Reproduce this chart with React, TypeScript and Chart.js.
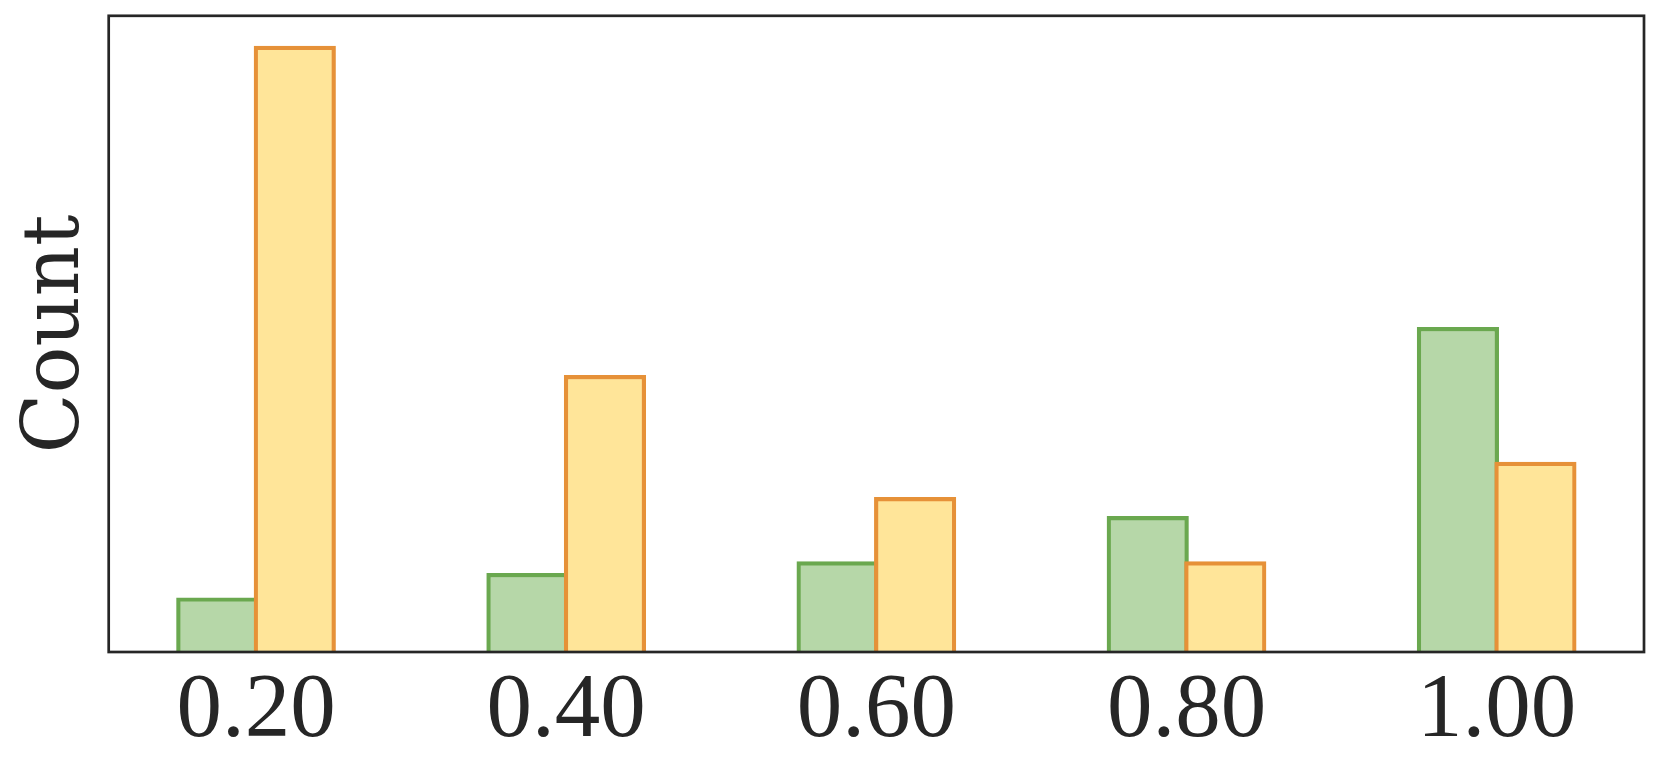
import React, { useEffect, useRef } from "react";
import { Chart, registerables } from "chart.js";

Chart.register(...registerables);

const CATEGORIES = ["0.20", "0.40", "0.60", "0.80", "1.00"];
const GREEN_VALUES = [6.0, 8.7, 10.0, 15.0, 35.9];
const ORANGE_VALUES = [67.0, 30.6, 17.1, 10.0, 21.0];
const Y_LABEL = "Count";

const Y_MAX = 70.35;
const X_MIN = -0.475;
const X_MAX = 4.475;
const BAR_WIDTH = 0.25;

const INK = "#262626";
const TITLE_FONT = "'DejaVu Serif', serif";
const TICK_FONT = "'Liberation Serif', 'Times New Roman', serif";

const framePlugin = {
  id: "frame",
  afterDatasetsDraw(chart: any) {
    const { ctx, chartArea } = chart;
    const { left, top, right, bottom } = chartArea;
    ctx.save();
    ctx.strokeStyle = INK;
    ctx.lineWidth = 2.7;
    ctx.strokeRect(left, top, right - left, bottom - top);
    ctx.restore();
  },
};

export default function App() {
  const canvasRef = useRef<HTMLCanvasElement | null>(null);

  useEffect(() => {
    document.body.style.margin = "0";
    const canvas = canvasRef.current;
    if (!canvas) return;
    const chart = new Chart(canvas, {
      type: "bar",
      data: {
        datasets: [
          {
            label: "green",
            data: GREEN_VALUES.map((v, i) => ({ x: i - BAR_WIDTH / 2, y: v })),
            backgroundColor: "#b6d7a8",
            borderColor: "#6aa84f",
            borderWidth: 4.2,
            borderSkipped: "start",
            grouped: false,
            barThickness: 81.5,
            order: 1,
          },
          {
            label: "orange",
            data: ORANGE_VALUES.map((v, i) => ({ x: i + BAR_WIDTH / 2, y: v })),
            backgroundColor: "#ffe599",
            borderColor: "#e69138",
            borderWidth: 4.2,
            borderSkipped: "start",
            grouped: false,
            barThickness: 81.5,
            order: 0,
          },
        ],
      } as any,
      options: {
        animation: false,
        responsive: false,
        maintainAspectRatio: false,
        events: [],
        layout: { padding: { top: 15.8, right: 17, left: 0, bottom: 0 } },
        plugins: { legend: { display: false }, tooltip: { enabled: false } },
        scales: {
          x: {
            type: "linear",
            min: X_MIN,
            max: X_MAX,
            bounds: "data",
            offset: false,
            grid: { display: false, drawTicks: false, offset: false },
            border: { display: false },
            afterBuildTicks: (axis: any) => {
              axis.ticks = CATEGORIES.map((_, i) => ({ value: i }));
            },
            afterFit: (scale: any) => {
              scale.height = 122;
            },
            ticks: {
              autoSkip: false,
              maxRotation: 0,
              padding: 5,
              color: INK,
              font: { family: TICK_FONT, size: 91 },
              callback: (v: any) => CATEGORIES[Math.round(Number(v))] ?? "",
            },
          },
          y: {
            type: "linear",
            min: 0,
            max: Y_MAX,
            grid: { display: false, drawTicks: false },
            border: { display: false },
            ticks: { display: false },
            afterFit: (scale: any) => {
              scale.width = 108.7;
            },
            title: {
              display: true,
              text: Y_LABEL,
              color: INK,
              font: { family: TITLE_FONT, size: 78 },
              padding: { top: 11, bottom: 0 },
            },
          },
        },
      } as any,
      plugins: [framePlugin],
    });
    return () => chart.destroy();
  }, []);

  return (
    <div style={{ width: 1661, height: 774, position: "relative", background: "#ffffff" }}>
      <canvas ref={canvasRef} width={1661} height={774} style={{ display: "block" }} />
    </div>
  );
}
